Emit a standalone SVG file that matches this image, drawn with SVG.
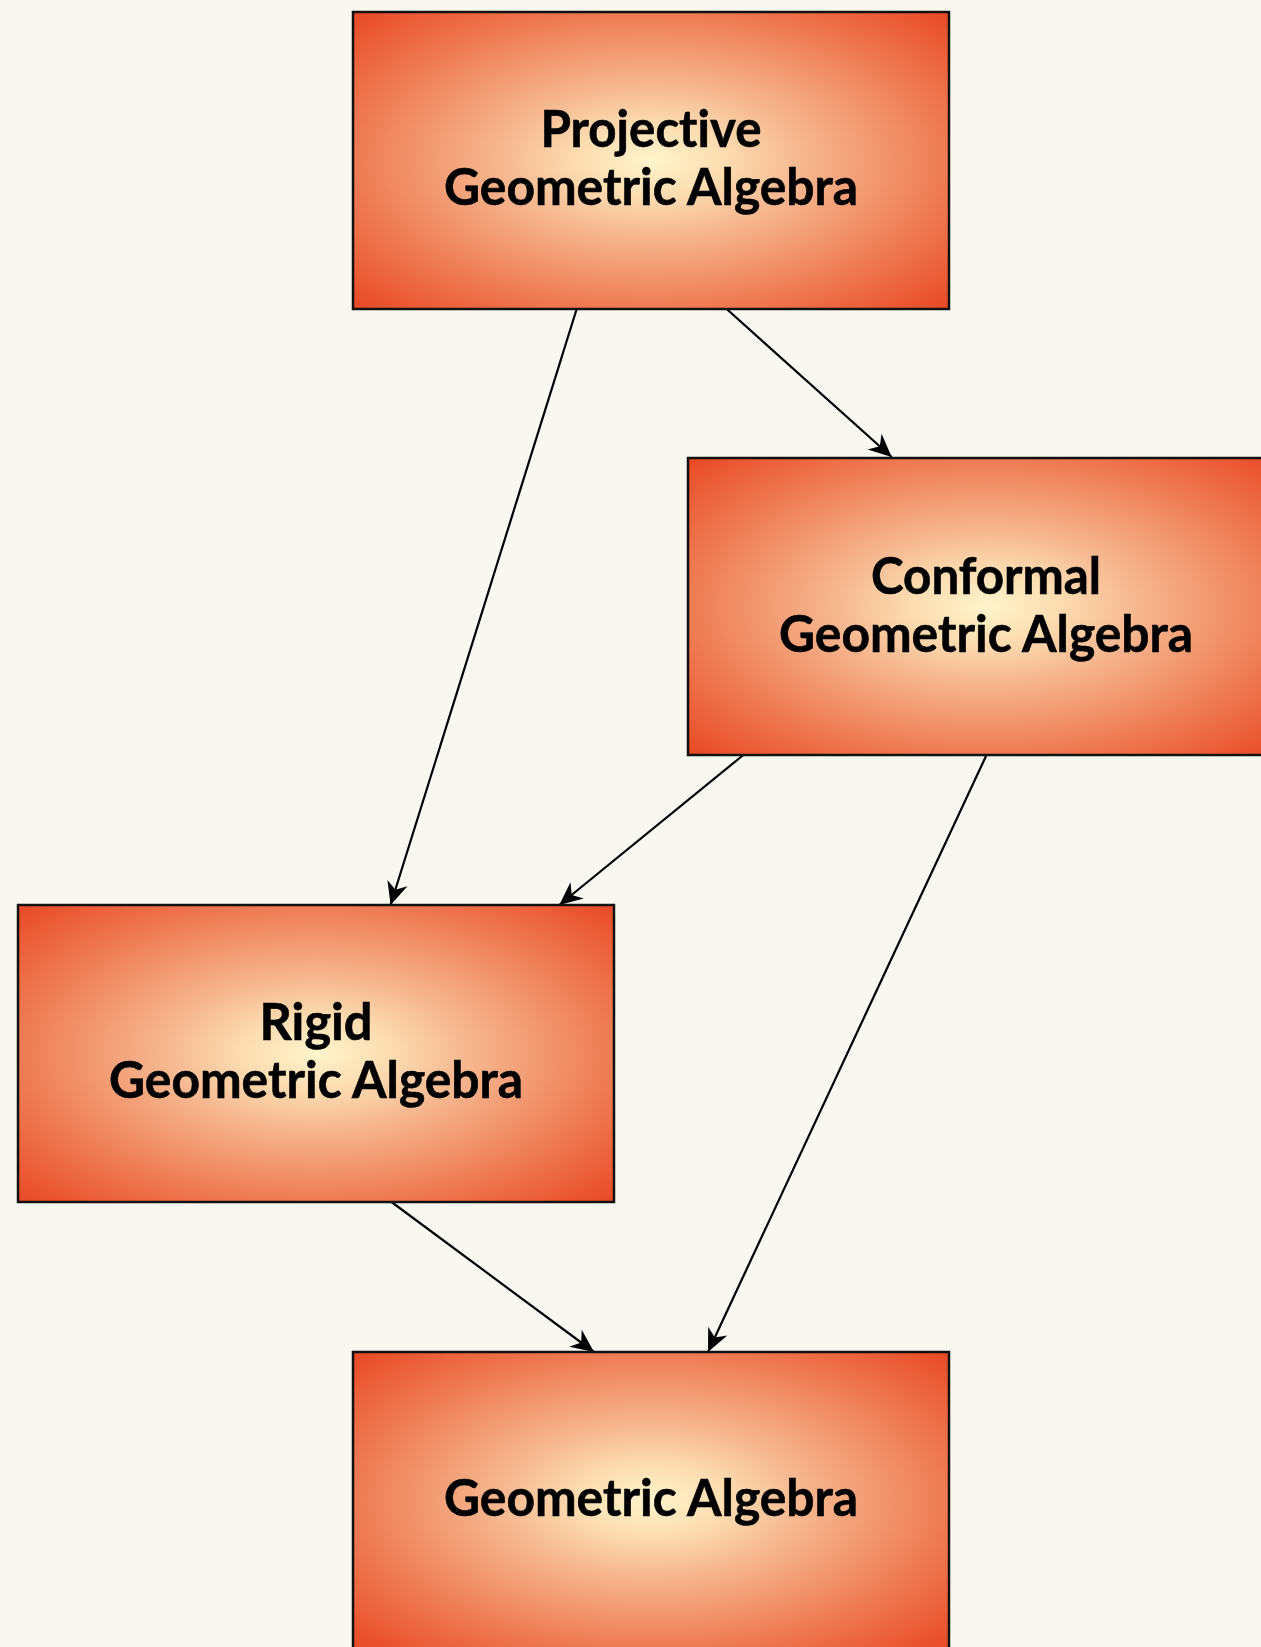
<svg xmlns="http://www.w3.org/2000/svg" width="1261" height="1647" viewBox="0 0 1261 1647">
<style>
.box{fill:url(#grad);stroke:#111;stroke-width:2.5}
.lbl{font-family:Lato,"Open Sans","Liberation Sans",sans-serif;font-weight:700;font-size:51px;fill:#000;text-anchor:middle;font-variant-ligatures:none;stroke:#000;stroke-width:0.6}
.edge{stroke:#000;stroke-width:2.2;fill:none;marker-end:url(#arrow)}
</style>
<defs>
<radialGradient id="grad" cx="0.5" cy="0.5" r="0.707">
<stop offset="0" stop-color="#fff4cc"/>
<stop offset="0.177" stop-color="#fcdcb0"/>
<stop offset="0.354" stop-color="#f6b890"/>
<stop offset="0.707" stop-color="#ee7a52"/>
<stop offset="1" stop-color="#e84824"/>
</radialGradient>
<marker id="arrow" markerUnits="userSpaceOnUse" viewBox="-26 -13 28 26" refX="0" refY="0" markerWidth="28" markerHeight="26" orient="auto" overflow="visible">
<path d="M0,0 L-23,-10.5 L-16,0 L-23,10.5 Z" fill="#000"/>
</marker>
</defs>
<rect width="1261" height="1647" fill="#f9f8f0"/>
<g id="connectors">
<line class="edge" x1="576.7" y1="309" x2="390.6" y2="905"/>
<line class="edge" x1="726.7" y1="309" x2="891.7" y2="457"/>
<line class="edge" x1="743.3" y1="755" x2="559.3" y2="905"/>
<line class="edge" x1="986.5" y1="755" x2="708" y2="1352"/>
<line class="edge" x1="391.5" y1="1202" x2="594" y2="1352"/>
</g>
<g id="node-projective">
<rect class="box" x="353" y="12" width="596" height="297"/>
<text class="lbl" x="651" y="147" textLength="221" lengthAdjust="spacingAndGlyphs">Projective</text>
<text class="lbl" x="651" y="205" textLength="414" lengthAdjust="spacingAndGlyphs">Geometric Algebra</text>
</g>
<g id="node-conformal">
<rect class="box" x="688" y="458" width="596" height="297"/>
<text class="lbl" x="986" y="593.5" textLength="230" lengthAdjust="spacingAndGlyphs">Conformal</text>
<text class="lbl" x="986" y="651.5" textLength="414" lengthAdjust="spacingAndGlyphs">Geometric Algebra</text>
</g>
<g id="node-rigid">
<rect class="box" x="18" y="905" width="596" height="297"/>
<text class="lbl" x="316" y="1040" textLength="113" lengthAdjust="spacingAndGlyphs">Rigid</text>
<text class="lbl" x="316" y="1098" textLength="414" lengthAdjust="spacingAndGlyphs">Geometric Algebra</text>
</g>
<g id="node-ga">
<rect class="box" x="353" y="1352" width="596" height="297"/>
<text class="lbl" x="651" y="1516" textLength="414" lengthAdjust="spacingAndGlyphs">Geometric Algebra</text>
</g>
</svg>
